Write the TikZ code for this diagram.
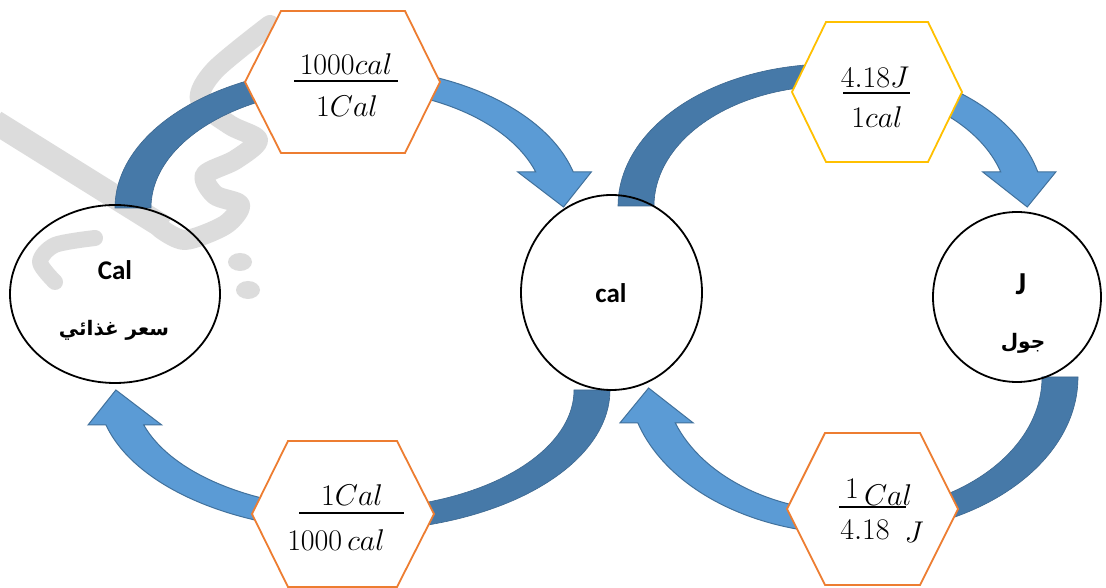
\documentclass[tikz,border=0pt]{standalone}
\usepackage{fix-cm}
\usepackage{fontspec}
\setsansfont{Carlito}
\newfontfamily\arabicfont[Script=Arabic]{DejaVu Sans}
\TeXXeTstate=1
\usetikzlibrary{calc,shapes.geometric}
\definecolor{lightb}{RGB}{91,155,213}
\definecolor{darkb}{RGB}{70,121,168}
\definecolor{edgeb}{RGB}{65,113,156}
\definecolor{orng}{RGB}{237,125,49}
\definecolor{gold}{RGB}{255,192,0}
\definecolor{wmark}{RGB}{220,220,220}

\newcommand\toparrow[7]{%
  \pgfmathsetmacro\Rxo{#3+18}\pgfmathsetmacro\Ryo{#4+11}%
  \pgfmathsetmacro\Rxi{#3-18}\pgfmathsetmacro\Ryi{#4-11}%
  \pgfmathsetmacro\To{asin((#6-#2)/\Ryo)}%
  \pgfmathsetmacro\Ti{asin((#6-#2)/\Ryi)}%
  \coordinate (c) at (#1,#2);
  \coordinate (ot) at ($(c)+(180:\Rxo pt and \Ryo pt)$);
  \coordinate (om) at ($(c)+(#5:\Rxo pt and \Ryo pt)$);
  \coordinate (im) at ($(c)+(#5:\Rxi pt and \Ryi pt)$);
  \coordinate (oe) at ($(c)+(\To:\Rxo pt and \Ryo pt)$);
  \coordinate (ie) at ($(c)+(\Ti:\Rxi pt and \Ryi pt)$);
  \coordinate (tip) at ($(oe)!0.5!(ie)+(#7,-35)$);
  \filldraw[back] (ot) arc[start angle=180, end angle=#5, x radius=\Rxo, y radius=\Ryo]
     -- (im) arc[start angle=#5, end angle=180, x radius=\Rxi, y radius=\Ryi] -- cycle;
  \filldraw[front] (om) arc[start angle=#5, end angle=\To, x radius=\Rxo, y radius=\Ryo]
     -- ($(oe)+(18,0)$) -- (tip) -- ($(ie)+(-18,0)$) -- (ie)
     arc[start angle=\Ti, end angle=#5, x radius=\Rxi, y radius=\Ryi] -- cycle;
}
\newcommand\botarrow[7]{%
  \pgfmathsetmacro\Rxo{#3+18}\pgfmathsetmacro\Ryo{#4+11}%
  \pgfmathsetmacro\Rxi{#3-18}\pgfmathsetmacro\Ryi{#4-11}%
  \pgfmathsetmacro\To{-180+asin((#2-#6)/\Ryo)}%
  \pgfmathsetmacro\Ti{-180+asin((#2-#6)/\Ryi)}%
  \coordinate (c) at (#1,#2);
  \coordinate (ot) at ($(c)+(0:\Rxo pt and \Ryo pt)$);
  \coordinate (om) at ($(c)+(#5:\Rxo pt and \Ryo pt)$);
  \coordinate (im) at ($(c)+(#5:\Rxi pt and \Ryi pt)$);
  \coordinate (oe) at ($(c)+(\To:\Rxo pt and \Ryo pt)$);
  \coordinate (ie) at ($(c)+(\Ti:\Rxi pt and \Ryi pt)$);
  \coordinate (tip) at ($(oe)!0.5!(ie)+(#7,35)$);
  \filldraw[back] (ot) arc[start angle=0, end angle=#5, x radius=\Rxo, y radius=\Ryo]
     -- (im) arc[start angle=#5, end angle=0, x radius=\Rxi, y radius=\Ryi] -- cycle;
  \filldraw[front] (om) arc[start angle=#5, end angle=\To, x radius=\Rxo, y radius=\Ryo]
     -- ($(oe)+(-18,0)$) -- (tip) -- ($(ie)+(18,0)$) -- (ie)
     arc[start angle=\Ti, end angle=#5, x radius=\Rxi, y radius=\Ryi] -- cycle;
}

\begin{document}
\begin{tikzpicture}[x=1pt,y=1pt,
  circ/.style={draw=black, line width=1.8pt, ellipse, inner sep=0pt},
  hexa/.style={fill=white, line width=1.8pt, line join=miter},
  lbl/.style={font=\sffamily\bfseries\fontsize{27}{29}\selectfont, inner sep=0pt},
  arlbl/.style={font=\arabicfont\bfseries\fontsize{20}{24}\selectfont, inner sep=0pt},
  mth/.style={font=\fontsize{30}{32}\selectfont, inner sep=0pt},
  fbar/.style={line width=1.7pt},
  back/.style={fill=darkb, draw=darkb!85!black, line width=0.6pt},
  front/.style={fill=lightb, draw=edgeb, line width=1pt, line join=miter},
  wm/.style={draw=wmark, line width=20pt, line cap=round, line join=round}]
\useasboundingbox (0,0) rectangle (1106,588);
\fill[white] (0,0) rectangle (1106,588);

% watermark
\draw[wm, line width=24pt, line cap=butt] (-5,466) -- (165,360);
\draw[wm, line width=20pt] plot[smooth] coordinates {(270,563) (215,518) (200,488) (230,463) (258,448) (235,428) (205,413) (215,393) (240,383) (225,363) (185,348) (160,360)};
\draw[wm, line width=16pt] plot[smooth] coordinates {(95,350) (55,343) (40,326) (55,306)};
\fill[wmark] (240,326) ellipse[x radius=12, y radius=9];
\fill[wmark] (248,298) ellipse[x radius=12, y radius=9];

% curved arrows
\toparrow{348}{380}{215}{130}{90}{416}{9}
\toparrow{831}{382}{195}{131}{80}{416}{8}
\botarrow{853}{211}{207}{146}{-90}{165}{-8}
\botarrow{354}{198}{238}{130}{-92}{163}{-9}

% circles
\node[circ, minimum width=210pt, minimum height=178pt] (C1) at (115,294) {};
\node[circ, minimum width=181pt, minimum height=195pt] (C2) at (611.5,295.5) {};
\node[circ, minimum width=168pt, minimum height=170pt] (C3) at (1017,291) {};

\node[lbl] (t1) at (115,318) {Cal};
\node[arlbl] (t1a) at (114,258) {\beginR سعر غذائي\endR};
\node[lbl] (t2) at (611,295) {cal};
\node[lbl, font=\sffamily\bfseries\fontsize{32}{34}\selectfont] (t3) at (1021,304) {J};
\node[arlbl] (t3a) at (1023,245) {\beginR جول\endR};

% hexagons
\draw[hexa, draw=orng] (245,506) -- (281,577) -- (405,577) -- (440,506) -- (405,435) -- (281,435) -- cycle;
\draw[hexa, draw=gold] (792,496) -- (826,566) -- (928,566) -- (962,496) -- (928,426) -- (826,426) -- cycle;
\draw[hexa, draw=orng] (252,74) -- (288,147) -- (397,147) -- (434,74) -- (397,1) -- (288,1) -- cycle;
\draw[hexa, draw=orng] (787,79) -- (825,155) -- (920,155) -- (958,79) -- (920,3) -- (825,3) -- cycle;

% fractions
\node[mth] (n1) at (346,524) {$1000cal$};
\node[mth] (d1) at (347,482) {$1Cal$};
\coordinate (b1l) at (294,507); \coordinate (b1r) at (398,507);
\draw[fbar] (b1l) -- (b1r);

\node[mth] (n2) at (875,511) {$4.18J$};
\node[mth] (d2) at (877,471) {$1cal$};
\coordinate (b2l) at (843,495); \coordinate (b2r) at (910,495);
\draw[fbar] (b2l) -- (b2r);

\node[mth] (n3) at (352,93) {$1Cal$};
\node[mth] (d3) at (336,48) {$1000\,cal$};
\coordinate (b3l) at (299,75); \coordinate (b3r) at (404,75);
\draw[fbar] (b3l) -- (b3r);

\node[mth] (n4a) at (852,99) {$1$};
\node[mth] (n4b) at (888,93) {$Cal$};
\node[mth] (d4a) at (865,58) {$4.18$};
\node[mth] (d4b) at (914,56) {$J$};
\coordinate (b4l) at (839,81); \coordinate (b4r) at (906,81);
\draw[fbar] (b4l) -- (b4r);
\end{tikzpicture}
\end{document}
